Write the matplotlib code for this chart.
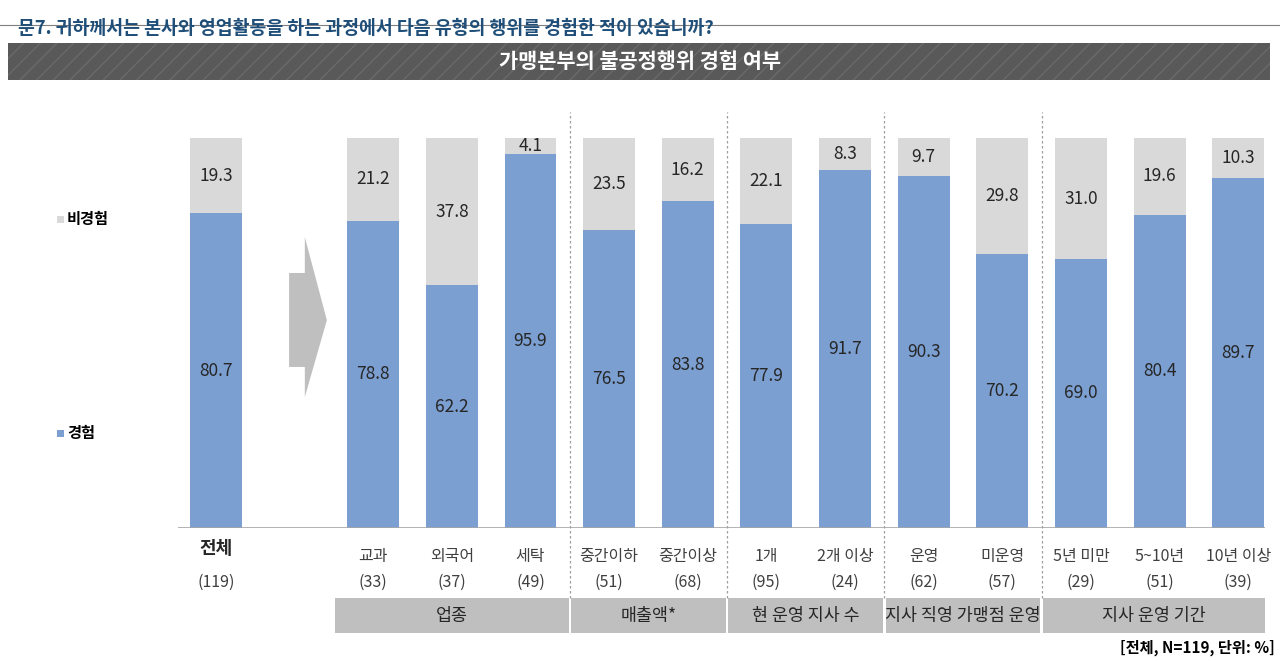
import matplotlib
matplotlib.use("Agg")
import matplotlib.pyplot as plt
from matplotlib.patches import Rectangle, Polygon
import numpy as np

plt.rcParams['font.family'] = ['Noto Sans CJK KR', 'DejaVu Sans']

# ---- data ----
categories = ["전체", "교과", "외국어", "세탁", "중간이하", "중간이상", "1개", "2개 이상",
              "운영", "미운영", "5년 미만", "5~10년", "10년 이상"]
counts = ["(119)", "(33)", "(37)", "(49)", "(51)", "(68)", "(95)", "(24)",
          "(62)", "(57)", "(29)", "(51)", "(39)"]
experienced = [80.7, 78.8, 62.2, 95.9, 76.5, 83.8, 77.9, 91.7, 90.3, 70.2, 69.0, 80.4, 89.7]
not_experienced = [19.3, 21.2, 37.8, 4.1, 23.5, 16.2, 22.1, 8.3, 9.7, 29.8, 31.0, 19.6, 10.3]
groups = ["업종", "매출액*", "현 운영 지사 수", "지사 직영 가맹점 운영", "지사 운영 기간"]
group_sizes = [3, 2, 2, 2, 3]
series_names = ["경험", "비경험"]

question = "문7. 귀하께서는 본사와 영업활동을 하는 과정에서 다음 유형의 행위를 경험한 적이 있습니까?"
title = "가맹본부의 불공정행위 경험 여부"
note = "[전체, N=119, 단위: %]"

BLUE = "#7B9FD1"
GRAY = "#D9D9D9"
BOX = "#BFBFBF"

W, H = 1280, 661
fig = plt.figure(figsize=(W / 100, H / 100), dpi=100)
fig.patch.set_facecolor("white")

def fx(px):
    return px / W

def fy(py):
    return 1 - py / H

# axes placement
ax_l, ax_r, ax_t, ax_b = 178, 1265, 110, 528
ax = fig.add_axes([fx(ax_l), fy(ax_b), fx(ax_r - ax_l), (ax_b - ax_t) / H])
ax.set_facecolor("white")

x = np.array([0] + list(range(2, 2 + len(categories) - 1)), dtype=float)
bw = 0.66
ax.bar(x, experienced, width=bw, color=BLUE, label=series_names[0], zorder=2)
ax.bar(x, not_experienced, width=bw, bottom=experienced, color=GRAY, label=series_names[1], zorder=2)

for xi, e, n in zip(x, experienced, not_experienced):
    ax.text(xi, e / 2, f"{e:.1f}", ha="center", va="center", fontsize=12.5, color="#262626")
    ax.text(xi, e + n / 2, f"{n:.1f}", ha="center", va="center", fontsize=12.5, color="#262626")

ax.set_xlim(-0.483, 13.34)
ax.set_ylim(0, 107.2)
for s in ax.spines.values():
    s.set_visible(False)
ax.set_xticks([])
ax.set_yticks([])
ax.axhline(0, color="#A6A6A6", lw=1.2, zorder=3)

# arrow decoration
arrow = Polygon([(0.93, 65.4), (1.13, 65.4), (1.13, 74.6), (1.41, 53.3),
                 (1.13, 33.6), (1.13, 41.3), (0.93, 41.3)],
                closed=True, facecolor="#BFBFBF", edgecolor="none", zorder=2)
ax.add_patch(arrow)

tr = ax.get_xaxis_transform()
axh = ax_b - ax_t

def ay(py):
    return (ax_b - py) / axh

# category labels
for i, (xi, c, n) in enumerate(zip(x, categories, counts)):
    if i == 0:
        ax.text(xi, ay(548), c, transform=tr, ha="center", va="center", fontsize=13,
                fontweight="bold", color="#262626", clip_on=False)
    else:
        ax.text(xi, ay(556), c, transform=tr, ha="center", va="center", fontsize=11.5,
                color="#404040", clip_on=False)
    ax.text(xi, ay(582), n, transform=tr, ha="center", va="center", fontsize=11.5,
            color="#404040", clip_on=False)

# groups, separators
start = 2
for gi, (g, sz) in enumerate(zip(groups, group_sizes)):
    left = start - 0.5
    right = start + sz - 0.5
    l = left + 0.015
    r = min(right - 0.015, 13.34)
    ax.add_patch(Rectangle((l, ay(633)), r - l, ay(598) - ay(633), transform=tr,
                           facecolor=BOX, edgecolor="none", clip_on=False))
    ax.text((l + r) / 2, ay(615.5), g, transform=tr, ha="center", va="center",
            fontsize=12.5, color="#262626", clip_on=False)
    if gi > 0:
        ax.plot([left, left], [ay(598), ay(112)], transform=tr, color="#9E9E9E",
                lw=0.9, ls=(0, (2, 2)), clip_on=False, zorder=1)
    start += sz

# header
fig.add_artist(plt.Line2D([0, 1], [fy(25), fy(25)], color="#7F7F7F", lw=0.8))
fig.text(fx(18), fy(29), question, ha="left", va="center", fontsize=13.2,
         fontweight="bold", color="#1F4E79")
bar = Rectangle((fx(8), fy(80)), fx(1262), (80 - 43) / H, transform=fig.transFigure,
                facecolor="#595959", edgecolor="#6A6A6A", hatch="//", lw=0)
fig.add_artist(bar)
fig.text(0.5, fy(62), title, ha="center", va="center", fontsize=15,
         fontweight="bold", color="white")

# legend
for name, col, py in [(series_names[1], GRAY, 219), (series_names[0], BLUE, 433)]:
    fig.add_artist(Rectangle((fx(57), fy(py + 3.5)), fx(7), 7 / H,
                             transform=fig.transFigure, facecolor=col, edgecolor="none"))
    fig.text(fx(67), fy(py), name, ha="left", va="center", fontsize=11,
             fontweight="bold", color="black")

fig.text(fx(1275), fy(648), note, ha="right", va="center", fontsize=11,
         fontweight="bold", color="black")

fig.savefig("out.png", dpi=100, facecolor="white")
